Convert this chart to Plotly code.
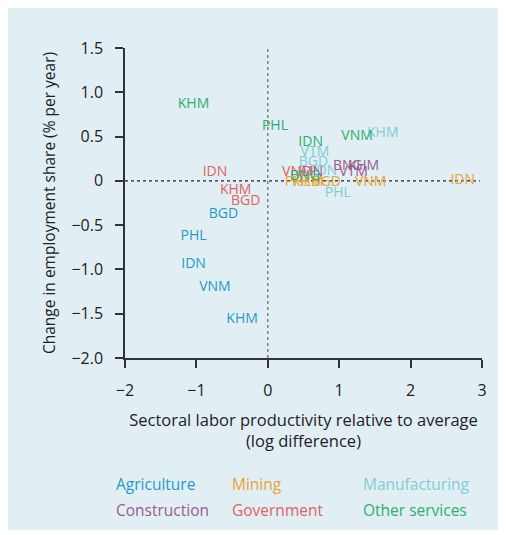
import plotly.graph_objects as go

# label positions per sector: (country code, productivity gap, change in employment share)
agri_codes = ["KHM", "VNM", "IDN", "PHL", "BGD"]
agri_x = [-0.36, -0.74, -1.04, -1.04, -0.62]
agri_y = [-1.57, -1.20, -0.94, -0.63, -0.38]

mining_codes = ["IDN", "VNM", "PHL", "KHM", "BGD"]
mining_x = [2.73, 1.44, 0.42, 0.56, 0.82]
mining_y = [0.0, -0.02, -0.02, -0.02, -0.02]

manuf_codes = ["KHM", "VTM", "BGD", "IDN", "PHL"]
manuf_x = [1.61, 0.66, 0.64, 0.80, 0.98]
manuf_y = [0.54, 0.32, 0.21, 0.11, -0.14]

constr_codes = ["BNG", "KHM", "VTM", "IDN"]
constr_x = [1.12, 1.34, 1.20, 0.60]
constr_y = [0.16, 0.16, 0.09, 0.10]

gov_codes = ["IDN", "KHM", "BGD", "VNM"]
gov_x = [-0.74, -0.45, -0.31, 0.42]
gov_y = [0.10, -0.11, -0.23, 0.10]

other_codes = ["KHM", "PHL", "IDN", "VNM", "BNG"]
other_x = [-1.04, 0.10, 0.60, 1.25, 0.52]
other_y = [0.86, 0.61, 0.43, 0.50, 0.05]

x_ticks = [-2, -1, 0, 1, 2, 3]
x_ticktext = ["\u22122", "\u22121", "0", "1", "2", "3"]
y_ticks = [-2.0, -1.5, -1.0, -0.5, 0, 0.5, 1.0, 1.5]
y_ticktext = ["\u22122.0", "\u22121.5", "\u22121.0", "\u22120.5", "0", "0.5", "1.0", "1.5"]

FONT = "Open Sans"
BG = "#e1eef4"
AXIS = "#333333"

sectors = [
    ("Agriculture", agri_codes, agri_x, agri_y, "#1f9cc6"),
    ("Mining", mining_codes, mining_x, mining_y, "#e9a330"),
    ("Manufacturing", manuf_codes, manuf_x, manuf_y, "#7fcdd3"),
    ("Construction", constr_codes, constr_x, constr_y, "#9a5b8d"),
    ("Government", gov_codes, gov_x, gov_y, "#e16262"),
    ("Other services", other_codes, other_x, other_y, "#2eae6a"),
]

fig = go.Figure()

# reference lines at zero
fig.add_trace(go.Scatter(x=[0, 0], y=[-2, 1.5], mode="lines",
                         line=dict(color="#666666", width=1.2, dash="dot"),
                         showlegend=False, hoverinfo="skip"))
fig.add_trace(go.Scatter(x=[-2, 2.97], y=[0, 0], mode="lines",
                         line=dict(color="#222222", width=1.2, dash="dot"),
                         showlegend=False, hoverinfo="skip"))

for name, codes, xs, ys, col in sectors:
    fig.add_trace(go.Scatter(
        x=xs, y=ys, text=codes, mode="text", name=name,
        textposition="middle center",
        textfont=dict(family=FONT, size=14, color=col),
        showlegend=False,
    ))

# legend as coloured text
leg_x = [-0.031, 0.294, 0.661]
leg_y = [-0.406, -0.490]
for i, (name, _, _, _, col) in enumerate(sectors):
    fig.add_annotation(
        x=leg_x[i % 3], y=leg_y[i // 3],
        xref="paper", yref="paper", xanchor="left", yanchor="middle",
        text=name, showarrow=False,
        font=dict(family=FONT, size=15.5, color=col),
    )

fig.update_xaxes(
    range=[-2, 3], tickvals=x_ticks, ticktext=x_ticktext,
    showgrid=False, zeroline=False, showline=True, linecolor=AXIS, linewidth=1.5,
    ticks="outside", ticklen=8, tickcolor=AXIS, tickwidth=1.5, ticklabelstandoff=9,
    tickfont=dict(family=FONT, size=16, color="#222222"), automargin=False,
    title=dict(text="Sectoral labor productivity relative to average<br>(log difference)",
               font=dict(family=FONT, size=16.5, color="#222222"), standoff=14),
)
fig.update_yaxes(
    range=[-2, 1.5], tickvals=y_ticks, ticktext=y_ticktext,
    showgrid=False, zeroline=False, showline=True, linecolor=AXIS, linewidth=1.5,
    ticks="outside", ticklen=8, tickcolor=AXIS, tickwidth=1.5, ticklabelstandoff=9,
    tickfont=dict(family=FONT, size=16, color="#222222"), automargin=False,
    title=dict(text="Change in employment share (% per year)",
               font=dict(family=FONT, size=15.5, color="#222222"), standoff=12),
)

fig.update_layout(
    width=498, height=522,
    margin=dict(l=117, r=24, t=40, b=172),
    paper_bgcolor=BG, plot_bgcolor=BG,
    showlegend=False,
)

fig.write_html("out.html")
